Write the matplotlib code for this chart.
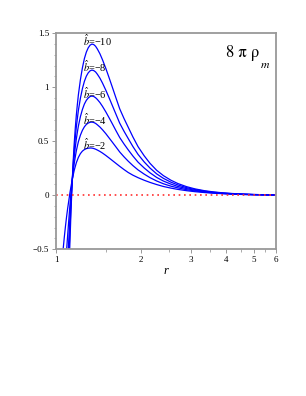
import matplotlib
matplotlib.use("Agg")
import matplotlib.pyplot as plt
from matplotlib.ticker import FixedLocator, FixedFormatter, MultipleLocator

plt.rcParams['font.family'] = ['Liberation Serif', 'DejaVu Serif']
plt.rcParams['mathtext.fontset'] = 'stix'

# radial grid (log axis) and density values
r = [1.05, 1.06, 1.07, 1.08, 1.09, 1.10, 1.11, 1.12, 1.13, 1.14, 1.15, 1.16,
     1.17, 1.18, 1.19, 1.20, 1.22, 1.24, 1.26, 1.28, 1.30, 1.32, 1.34, 1.36,
     1.38, 1.40, 1.43, 1.46, 1.50, 1.54, 1.58, 1.63, 1.68, 1.74, 1.80, 1.87,
     1.95, 2.05, 2.15, 2.27, 2.4, 2.55, 2.7, 2.9, 3.1, 3.35, 3.6, 3.9,
     4.2, 4.6, 5.0, 5.5, 6.0]

rho_b2 = [-0.62, -0.50, -0.39, -0.29, -0.20, -0.12, -0.05, 0.02, 0.08, 0.135, 0.185, 0.23,
          0.265, 0.30, 0.325, 0.35, 0.385, 0.408, 0.422, 0.431, 0.435, 0.437, 0.436, 0.432,
          0.426, 0.418, 0.405, 0.39, 0.368, 0.345, 0.322, 0.294, 0.267, 0.237, 0.21, 0.185,
          0.162, 0.138, 0.118, 0.098, 0.08, 0.065, 0.053, 0.041, 0.032, 0.024, 0.018, 0.013,
          0.009, 0.0058, 0.0037, 0.0022, 0.0013]
rho_b4 = [-1.215, -1.025, -0.843, -0.668, -0.513, -0.365, -0.228, -0.095, 0.023, 0.126, 0.216, 0.293,
          0.354, 0.41, 0.454, 0.495, 0.556, 0.601, 0.633, 0.655, 0.668, 0.675, 0.677, 0.673,
          0.665, 0.652, 0.631, 0.606, 0.57, 0.531, 0.493, 0.446, 0.40, 0.355, 0.315, 0.274,
          0.234, 0.195, 0.162, 0.131, 0.105, 0.083, 0.067, 0.05, 0.039, 0.028, 0.021, 0.015,
          0.0105, 0.0067, 0.0043, 0.0026, 0.0015]
rho_b6 = [-1.81, -1.55, -1.295, -1.045, -0.825, -0.61, -0.405, -0.21, -0.035, 0.118, 0.248, 0.355,
          0.443, 0.52, 0.583, 0.64, 0.728, 0.794, 0.844, 0.878, 0.90, 0.914, 0.918, 0.914,
          0.903, 0.887, 0.858, 0.823, 0.772, 0.718, 0.664, 0.597, 0.534, 0.474, 0.42, 0.363,
          0.306, 0.252, 0.207, 0.164, 0.13, 0.102, 0.08, 0.06, 0.045, 0.033, 0.024, 0.017,
          0.012, 0.0077, 0.0049, 0.0029, 0.0017]
rho_b8 = [-2.405, -2.075, -1.748, -1.423, -1.138, -0.855, -0.583, -0.325, -0.093, 0.109, 0.279, 0.418,
          0.531, 0.63, 0.711, 0.785, 0.899, 0.987, 1.054, 1.102, 1.133, 1.152, 1.159, 1.154,
          1.142, 1.121, 1.084, 1.039, 0.973, 0.904, 0.834, 0.749, 0.667, 0.592, 0.525, 0.451,
          0.378, 0.308, 0.251, 0.197, 0.155, 0.12, 0.094, 0.069, 0.052, 0.037, 0.027, 0.019,
          0.0135, 0.0086, 0.0054, 0.0033, 0.0019]
rho_b10 = [-3.0, -2.6, -2.2, -1.8, -1.45, -1.1, -0.76, -0.44, -0.15, 0.10, 0.31, 0.48,
           0.62, 0.74, 0.84, 0.93, 1.07, 1.18, 1.265, 1.325, 1.365, 1.39, 1.40, 1.395,
           1.38, 1.355, 1.31, 1.255, 1.175, 1.09, 1.005, 0.90, 0.80, 0.71, 0.63, 0.54,
           0.45, 0.365, 0.295, 0.23, 0.18, 0.138, 0.107, 0.078, 0.058, 0.041, 0.030, 0.021,
           0.015, 0.0095, 0.006, 0.0036, 0.0021]

curves = [rho_b2, rho_b4, rho_b6, rho_b8, rho_b10]
labels = ['-2', '-4', '-6', '-8', '-10']
label_y = [0.47, 0.70, 0.945, 1.19, 1.43]

xticks = [1, 2, 3, 4, 5, 6]
xminor = [1.5, 2.5, 3.5, 4.5, 5.5]
yticks = [-0.5, 0, 0.5, 1, 1.5]
ytick_labels = ['\u22120.5', '0', '0.5', '1', '1.5']

fig = plt.figure(figsize=(3.06, 3.96), dpi=100)
ax = fig.add_axes([0.183, 0.371, 0.719, 0.545])

for rho in curves:
    ax.plot(r, rho, color='#0000ff', lw=0.9)
ax.axhline(0, color='#ff3030', lw=1.2, ls=(0, (1, 2.2)))

for lab, y in zip(labels, label_y):
    ax.text(1.25, y, r'$\hat{b}$=' + lab.replace('-', '\u2212'), fontsize=7.5,
            ha='left', va='center')

# upright greek as in the original
ax.text(4.0, 1.32, '8 \u03c0 \u03c1', fontsize=12, family='STIXGeneral',
        ha='left', va='center')
ax.text(5.3, 1.21, 'm', fontsize=8.5, family='STIXGeneral', style='italic',
        ha='left', va='center')

ax.set_xscale('log')
ax.set_xlim(1, 6)
ax.set_ylim(-0.5, 1.5)
ax.xaxis.set_major_locator(FixedLocator(xticks))
ax.xaxis.set_major_formatter(FixedFormatter([str(t) for t in xticks]))
ax.xaxis.set_minor_locator(FixedLocator(xminor))
ax.xaxis.set_minor_formatter(FixedFormatter([''] * len(xminor)))
ax.yaxis.set_major_locator(FixedLocator(yticks))
ax.yaxis.set_major_formatter(FixedFormatter(ytick_labels))
ax.yaxis.set_minor_locator(MultipleLocator(0.1))
ax.tick_params(which='major', length=3, width=0.6, labelsize=6.5, color='#888888', pad=2)
ax.tick_params(which='minor', length=1.8, width=0.5, color='#888888')
for s in ax.spines.values():
    s.set_color('#999999')
    s.set_linewidth(1.3)

ax.set_xlabel('r', fontsize=9, style='italic', labelpad=1)

plt.savefig('out.png', dpi=100)
